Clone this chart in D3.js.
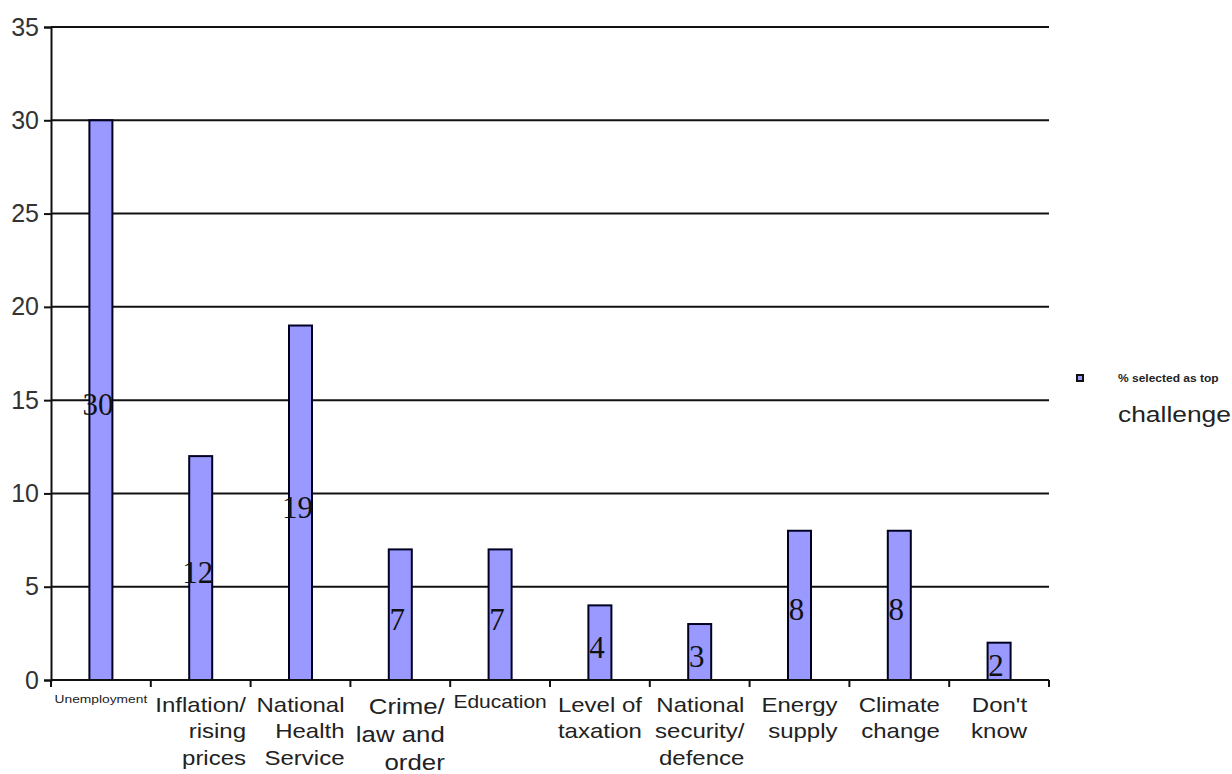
<!DOCTYPE html>
<html><head><meta charset="utf-8">
<script src="https://cdn.jsdelivr.net/npm/d3@7"></script>
<style>body{margin:0;background:#fff}</style>
</head><body>
<svg id="c" width="1232" height="774"></svg>
<script>
const categories = [
  ["Unemployment"],
  ["Inflation/", "rising", "prices"],
  ["National", "Health", "Service"],
  ["Crime/", "law and", "order"],
  ["Education"],
  ["Level of", "taxation"],
  ["National", "security/", "defence"],
  ["Energy", "supply"],
  ["Climate", "change"],
  ["Don't", "know"]
];
const categoryFontSizes = [11.5, 20, 20, 20, 17.5, 20, 20, 20, 20, 20];
const values = [30, 12, 19, 7, 7, 4, 3, 8, 8, 2];
const yTicks = [0, 5, 10, 15, 20, 25, 30, 35];
const legendLines = ["% selected as top", "challenge"];

const svg = d3.select("#c");
const L = 51, R = 1049, T = 27, B = 680;
const SX = 1.2; // horizontal stretch of the original's text
const keys = categories.map((c, i) => i);
const x = d3.scaleBand().domain(keys).range([L, R]);
const y = d3.scaleLinear().domain([0, 35]).range([B, T]);
const barW = 23;
const sans = "Liberation Sans, Arial, sans-serif";

// gridlines
svg.append("g").selectAll("line").data(yTicks.filter(d => d > 0)).join("line")
  .attr("x1", L).attr("x2", R).attr("y1", d => y(d)).attr("y2", d => y(d))
  .attr("stroke", "#111").attr("stroke-width", 2);

// bars
svg.append("g").selectAll("rect").data(values).join("rect")
  .attr("x", (d, i) => x(i) + x.bandwidth() / 2 - barW / 2)
  .attr("y", d => y(d))
  .attr("width", barW)
  .attr("height", d => B - y(d))
  .attr("fill", "#9999ff")
  .attr("stroke", "#000022").attr("stroke-width", 2);

// value labels
svg.append("g").selectAll("text").data(values).join("text")
  .attr("x", (d, i) => x(i) + x.bandwidth() / 2 - 3)
  .attr("y", d => y(d / 2) + 15)
  .attr("text-anchor", "middle")
  .attr("font-family", "Liberation Serif, Times New Roman, serif")
  .attr("font-size", 31)
  .attr("fill", "#111")
  .text(d => d);

// y axis
const yAxis = svg.append("g").attr("transform", `translate(${L},0)`)
  .call(d3.axisLeft(y).tickValues(yTicks).tickSize(7).tickPadding(5));
yAxis.select(".domain").attr("stroke", "#111").attr("stroke-width", 2);
yAxis.selectAll(".tick line").attr("stroke", "#111").attr("stroke-width", 2);
yAxis.selectAll("text").attr("font-family", sans)
  .attr("font-size", 25).attr("fill", "#333");

// x axis
const xAxisG = svg.append("g").attr("transform", `translate(0,${B})`);
xAxisG.append("line").attr("x1", L).attr("x2", R).attr("y1", 0).attr("y2", 0)
  .attr("stroke", "#111").attr("stroke-width", 2);
xAxisG.selectAll("line.t").data(d3.range(categories.length + 1)).join("line")
  .attr("class", "t")
  .attr("x1", d => L + d * x.bandwidth()).attr("x2", d => L + d * x.bandwidth())
  .attr("y1", 0).attr("y2", 7).attr("stroke", "#111").attr("stroke-width", 2);

const lab = svg.append("g");
categories.forEach((lines, i) => {
  const fs = categoryFontSizes[i];
  const big = i === 3; // the "Crime/" label is set a little larger in the original
  const size = big ? 21.5 : fs;
  const lineH = big ? 28 : 26.5;
  const g = lab.append("g")
    .attr("transform", `translate(${x(i) + x.bandwidth() / 2},0) scale(${SX},1)`);
  const t = g.append("text")
    .attr("font-family", sans)
    .attr("font-size", size).attr("fill", "#222");
  const base = fs < 12 ? 703 : (fs < 19 ? 708 : (big ? 714 : 712));
  const spans = lines.map((ln, j) =>
    t.append("tspan").attr("y", base + j * lineH).text(ln));
  const maxW = d3.max(spans, s => s.node().getComputedTextLength());
  spans.forEach(s => {
    const w = s.node().getComputedTextLength();
    s.attr("x", maxW / 2 - w);
  });
});

// legend
svg.append("rect").attr("x", 1077).attr("y", 375).attr("width", 6).attr("height", 6)
  .attr("fill", "#9999ff").attr("stroke", "#111").attr("stroke-width", 2);
svg.append("text").attr("transform", `translate(1118,382) scale(${SX},1)`)
  .attr("font-family", sans).attr("font-size", 10).attr("font-weight", "bold")
  .attr("fill", "#222").text(legendLines[0]);
svg.append("text").attr("transform", `translate(1118,422) scale(${SX},1)`)
  .attr("font-family", sans).attr("font-size", 22)
  .attr("fill", "#222").text(legendLines[1]);
</script>
</body></html>
